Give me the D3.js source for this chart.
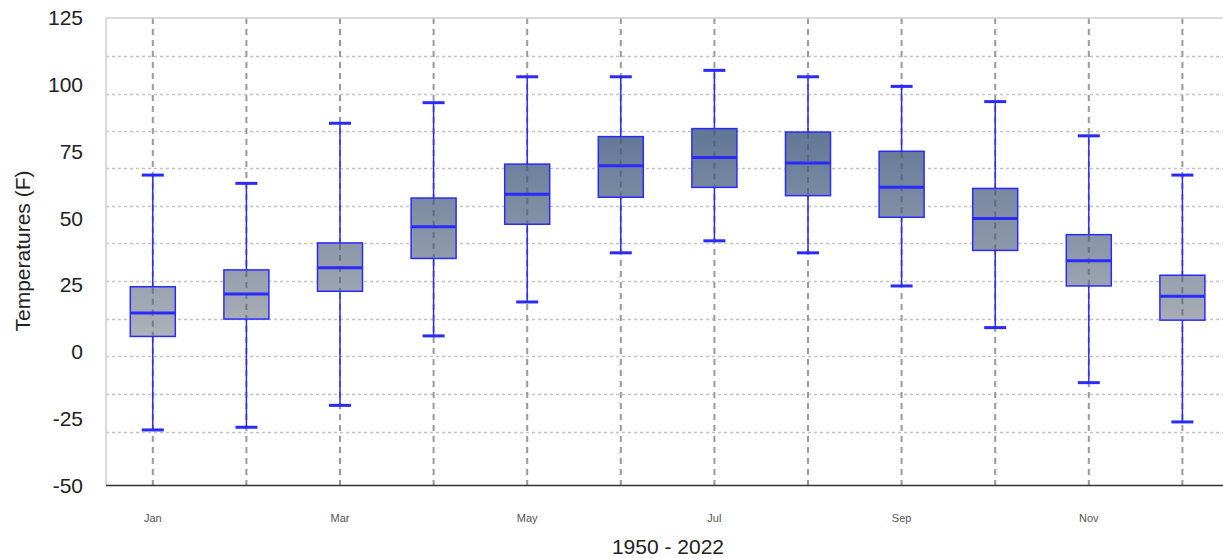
<!DOCTYPE html>
<html>
<head>
<meta charset="utf-8">
<script src="https://cdn.jsdelivr.net/npm/d3@7"></script>
<style>
  html, body { margin: 0; padding: 0; background: #fff; }
  svg { display: block; font-family: "Liberation Sans", Arial, sans-serif; }
</style>
</head>
<body>
<svg id="chart" width="1223" height="558"></svg>
<script>
// Monthly temperature distribution, 1950 - 2022 (°F)
const months = ["Jan","Feb","Mar","Apr","May","Jun","Jul","Aug","Sep","Oct","Nov","Dec"];
const whiskerLow  = [-29.2, -28.2, -20.0,  6.0, 18.7, 37.1, 41.6, 37.1, 24.7,  9.1, -11.5, -26.2];
const q1          = [  5.8,  12.3,  22.7, 35.0, 47.8, 57.9, 61.6, 58.5, 50.4, 38.0,  24.7,  11.9];
const median      = [ 14.6,  21.7,  31.5, 46.9, 59.0, 69.7, 72.8, 70.7, 61.6, 49.9,  34.1,  20.8];
const q3          = [ 24.4,  30.7,  40.8, 57.6, 70.3, 80.6, 83.6, 82.3, 75.1, 61.2,  43.9,  28.7];
const whiskerHigh = [ 66.2,  63.1,  85.6, 93.3, 103.0, 103.0, 105.4, 103.0, 99.4, 93.7, 80.9, 66.2];
const yTicks = [125, 100, 75, 50, 25, 0, -25, -50];
const xTickLabels = ["Jan","Mar","May","Jul","Sep","Nov"];
const gridValues = [110.8, 96.7, 82.7, 68.7, 54.6, 40.6, 26.5, 12.5, -1.5, -15.8, -30.0];

const svg = d3.select("#chart");
const plot = { left: 106, top: 18, bottom: 485.5 };
const step = 93.6;

const x = d3.scaleBand()
  .domain(months)
  .range([plot.left, plot.left + step * months.length])
  .paddingInner(0).paddingOuter(0);
const y = d3.scaleLinear().domain([-50, 125]).range([plot.bottom, plot.top]);

const data = months.map((m, i) => ({
  month: m, lo: whiskerLow[i], q1: q1[i], med: median[i], q3: q3[i], hi: whiskerHigh[i]
}));

// vertical fill gradient shared by all boxes
const defs = svg.append("defs");
const grad = defs.append("linearGradient")
  .attr("id", "boxFill")
  .attr("gradientUnits", "userSpaceOnUse")
  .attr("x1", 0).attr("x2", 0)
  .attr("y1", y(0)).attr("y2", y(90));
grad.append("stop").attr("offset", "0%").attr("stop-color", "#b3b5ba");
grad.append("stop").attr("offset", "100%").attr("stop-color", "#5a7294");

// horizontal dotted grid
svg.append("g").selectAll("line").data(gridValues).join("line")
  .attr("x1", plot.left).attr("x2", 1223)
  .attr("y1", d => Math.round(y(d)) + 0.5).attr("y2", d => Math.round(y(d)) + 0.5)
  .attr("stroke", "#c4c4c4").attr("stroke-width", 1.6)
  .attr("stroke-dasharray", "3,3");

// vertical dashed lines at each month
svg.append("g").selectAll("line").data(months).join("line")
  .attr("x1", d => x(d) + x.bandwidth() / 2).attr("x2", d => x(d) + x.bandwidth() / 2)
  .attr("y1", plot.top).attr("y2", plot.bottom)
  .attr("stroke", "#9a9a9a").attr("stroke-width", 2)
  .attr("stroke-dasharray", "6,5");

// frame
svg.append("line").attr("x1", plot.left).attr("x2", 1223)
  .attr("y1", plot.top).attr("y2", plot.top)
  .attr("stroke", "#cfcfcf").attr("stroke-width", 1.5);
svg.append("line").attr("x1", plot.left).attr("x2", plot.left)
  .attr("y1", plot.top).attr("y2", plot.bottom)
  .attr("stroke", "#cfcfcf").attr("stroke-width", 1.5);

// boxes
const boxW = 45, capW = 22, blue = "#2a2aff";
const g = svg.append("g").selectAll("g").data(data).join("g")
  .attr("transform", d => `translate(${x(d.month) + x.bandwidth() / 2},0)`);

g.append("line").attr("x1", 0).attr("x2", 0)
  .attr("y1", d => y(d.hi)).attr("y2", d => y(d.lo))
  .attr("stroke", blue).attr("stroke-width", 1.5);
g.append("line").attr("x1", -capW / 2).attr("x2", capW / 2)
  .attr("y1", d => y(d.hi)).attr("y2", d => y(d.hi))
  .attr("stroke", blue).attr("stroke-width", 3);
g.append("line").attr("x1", -capW / 2).attr("x2", capW / 2)
  .attr("y1", d => y(d.lo)).attr("y2", d => y(d.lo))
  .attr("stroke", blue).attr("stroke-width", 3);
g.append("rect")
  .attr("x", -boxW / 2).attr("width", boxW)
  .attr("y", d => y(d.q3)).attr("height", d => y(d.q1) - y(d.q3))
  .attr("fill", "url(#boxFill)")
  .attr("stroke", blue).attr("stroke-width", 1.5);
// dashed month line shows through the box
g.append("line").attr("x1", 0).attr("x2", 0)
  .attr("y1", d => y(d.q3) + 1).attr("y2", d => y(d.q1) - 1)
  .attr("stroke", "#4a5260").attr("stroke-opacity", 0.55).attr("stroke-width", 2)
  .attr("stroke-dasharray", "6,5");
g.append("line").attr("x1", -boxW / 2).attr("x2", boxW / 2)
  .attr("y1", d => y(d.med)).attr("y2", d => y(d.med))
  .attr("stroke", blue).attr("stroke-width", 3);

// bottom axis line
svg.append("line").attr("x1", plot.left).attr("x2", 1223)
  .attr("y1", plot.bottom).attr("y2", plot.bottom)
  .attr("stroke", "#333").attr("stroke-width", 1.5);

// y tick labels
svg.append("g").selectAll("text").data(yTicks).join("text")
  .attr("x", 83).attr("y", d => y(d))
  .attr("dy", "0.35em").attr("text-anchor", "end")
  .attr("font-size", 21).attr("fill", "#222")
  .text(d => d);

// x tick labels (every other month)
svg.append("g").selectAll("text").data(xTickLabels).join("text")
  .attr("x", d => x(d) + x.bandwidth() / 2).attr("y", 522)
  .attr("text-anchor", "middle")
  .attr("font-size", 11).attr("fill", "#555")
  .text(d => d);

// axis titles
svg.append("text")
  .attr("x", 668).attr("y", 554)
  .attr("text-anchor", "middle").attr("font-size", 21).attr("fill", "#222")
  .text("1950 - 2022");
svg.append("text")
  .attr("transform", "translate(30,251) rotate(-90)")
  .attr("text-anchor", "middle").attr("font-size", 21).attr("fill", "#222")
  .text("Temperatures (F)");
</script>
</body>
</html>
